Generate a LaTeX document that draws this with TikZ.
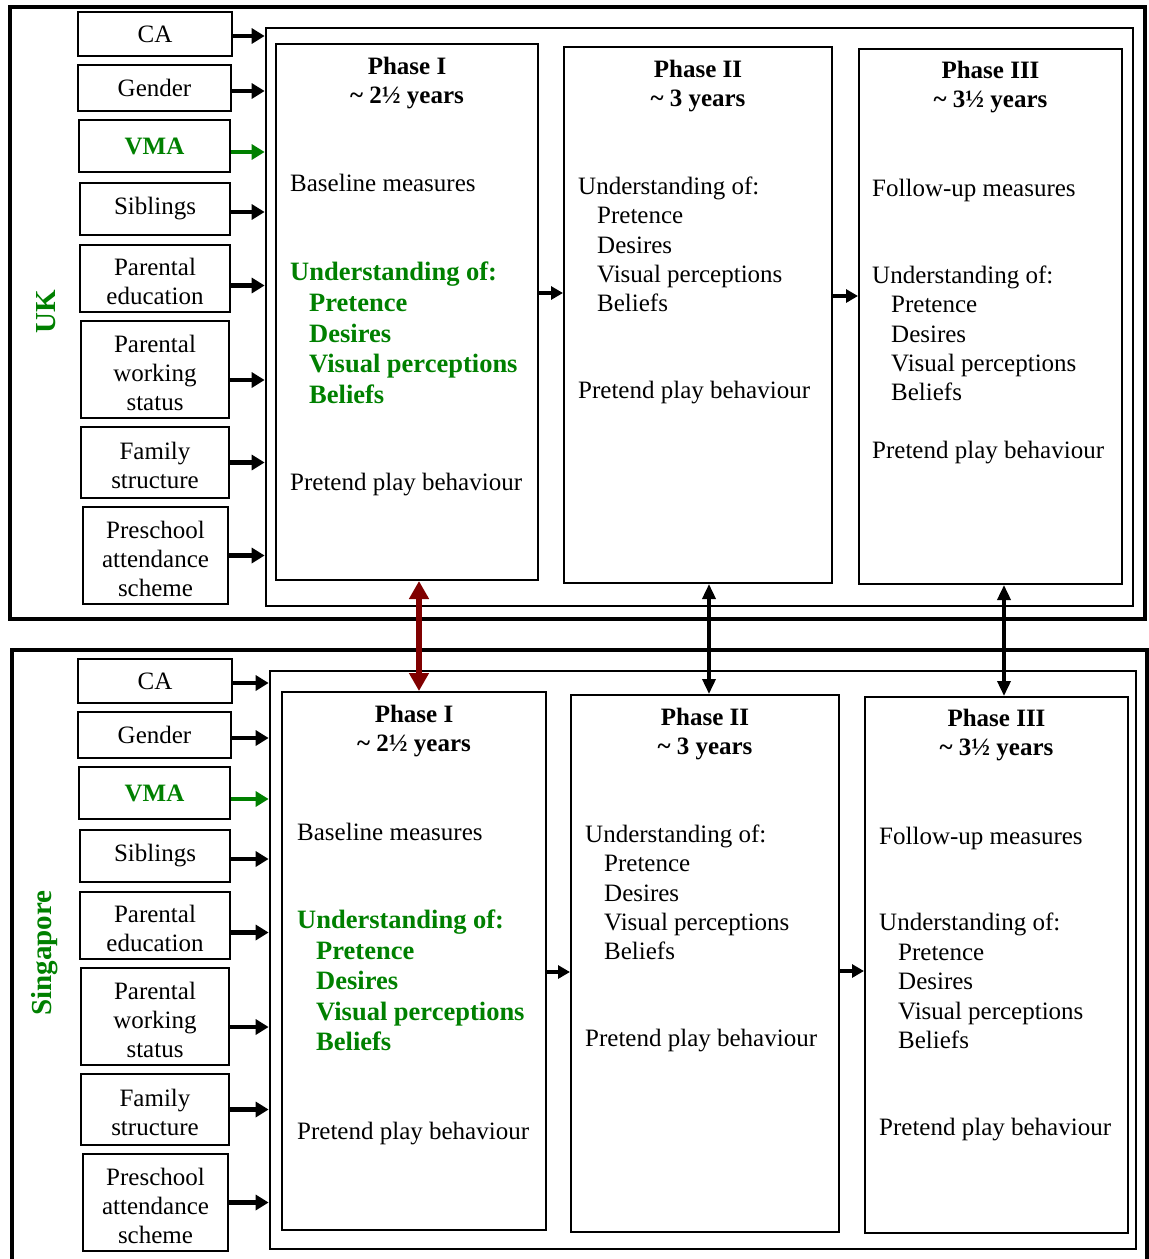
\documentclass[tikz,border=0pt]{standalone}
\usepackage{fontspec}
\setmainfont{Liberation Serif}
\usetikzlibrary{arrows.meta}
\definecolor{leaf}{RGB}{0,128,0}
\definecolor{linkred}{RGB}{128,0,0}

% Background variables feeding the phase frame; #1 = name prefix, #2 = vertical offset
\newcommand\drivers[2]{%
  \node[lbox,minimum width=154pt,minimum height=44pt] (#1ca) at (155,34+#2) {CA};
  \node[lbox,minimum width=153pt,minimum height=46pt] (#1gen) at (154.5,88+#2) {Gender};
  \node[lbox,minimum width=151pt,minimum height=52pt,font=\bfseries\fontsize{25}{29}\selectfont,text=leaf,yshift=1pt] (#1vma) at (154.5,147+#2) {VMA};
  \node[lbox,minimum width=150pt,minimum height=52pt] (#1sib) at (155,209+#2) {Siblings};
  \node[lbox,stack=52pt,minimum width=150pt,minimum height=67pt] (#1edu) at (155,278.5+#2) {Parental\\education};
  \node[lbox,stack=81pt,minimum width=148pt,minimum height=97pt] (#1work) at (155,369.5+#2) {Parental\\working\\status};
  \node[lbox,stack=52pt,minimum width=148pt,minimum height=71pt] (#1fam) at (155,462.5+#2) {Family\\structure};
  \node[lbox,stack=81pt,minimum width=145pt,minimum height=97pt] (#1pre) at (155.5,555.5+#2) {Preschool\\attendance\\scheme};
}
% Arrow from a variable box into the frame; #1 = box, #2 = frame, #3 = vertical shift, #4 = style
\newcommand\feedin[4]{%
  \path ([yshift=#3]#1.east) coordinate (#1A);
  \draw[#4] (#1A) -- (#1A -| #2.west);
}
\newcommand\allfeeds[2]{%
  \feedin{#1ca}{#2}{-2pt}{feed}
  \feedin{#1gen}{#2}{-3pt}{feed}
  \feedin{#1vma}{#2}{-6pt}{feedgreen}
  \feedin{#1sib}{#2}{-3pt}{feed}
  \feedin{#1edu}{#2}{-7pt}{feed}
  \feedin{#1work}{#2}{-10.5pt}{feed}
  \feedin{#1fam}{#2}{0pt}{feed}
  \feedin{#1pre}{#2}{0pt}{feed}
}

\begin{document}
\begin{tikzpicture}[x=1pt,y=-1pt,
  outerframe/.style={draw,line width=4pt,inner sep=0pt},
  innerframe/.style={draw,line width=2.7pt,inner sep=0pt},
  pbox/.style={draw,line width=2pt,inner sep=0pt},
  lbox/.style={draw,line width=2pt,inner sep=0pt,align=center,font=\fontsize{25}{29}\selectfont},
  stack/.style={text height=#1,text depth=0pt},
  ttl/.style={font=\bfseries\fontsize{25}{29}\selectfont,inner sep=0pt,anchor=base},
  body/.style={font=\fontsize{25}{29}\selectfont,inner sep=0pt,anchor=base west},
  gbody/.style={font=\bfseries\fontsize{26.5}{31}\selectfont,text=leaf,inner sep=0pt,anchor=base west},
  country/.style={font=\bfseries\fontsize{29}{34}\selectfont,text=leaf,rotate=90,inner sep=0pt},
  feed/.style={line width=4.5pt,-{Triangle[length=13pt,width=15pt]}},
  feedgreen/.style={feed,draw=leaf},
  link/.style={line width=4pt,-{Triangle[length=12pt,width=13pt]}},
  pair/.style={line width=3.5pt,{Triangle[length=15pt,width=13pt]}-{Triangle[length=15pt,width=13pt]}},
  pairred/.style={draw=linkred,line width=5.5pt,{Triangle[length=18pt,width=19pt]}-{Triangle[length=18pt,width=19pt]}}]

\useasboundingbox (0,0) rectangle (1149,1259);
\clip (0,0) rectangle (1149,1259);

% ---------------- UK ----------------
\node[outerframe,minimum width=1135pt,minimum height=612pt] (ukout) at (577.5,313) {};
\node[innerframe,minimum width=867pt,minimum height=578pt] (ukin) at (699.5,317) {};
\node[country] (uklabel) at (46,312) {UK};

\drivers{uk}{0}
\allfeeds{uk}{ukin}

\node[pbox,minimum width=262pt,minimum height=536pt] (ukp1) at (407,312) {};
\node[pbox,minimum width=268pt,minimum height=536pt] (ukp2) at (698,315) {};
\node[pbox,minimum width=263pt,minimum height=535pt] (ukp3) at (990.5,316.5) {};

\node[ttl] (ukp1a) at ([yshift=-31pt]ukp1.north) {Phase I};
\node[ttl] (ukp1b) at ([yshift=-60pt]ukp1.north) {\textasciitilde{} 2½ years};
\node[ttl] (ukp2a) at ([yshift=-31pt]ukp2.north) {Phase II};
\node[ttl] (ukp2b) at ([yshift=-60pt]ukp2.north) {\textasciitilde{} 3 years};
\node[ttl] (ukp3a) at ([yshift=-30pt]ukp3.north) {Phase III};
\node[ttl] (ukp3b) at ([yshift=-59pt]ukp3.north) {\textasciitilde{} 3½ years};

% Phase I
\node[body] (ukbase) at (290,191.5) {Baseline measures};
\node[gbody] (ukund1) at (290,280.5) {Understanding of:};
\foreach \t [count=\i] in {Pretence,Desires,Visual perceptions,Beliefs}
  \node[gbody] (ukund1\i) at (309,280.5+30.75*\i) {\t};
\node[body] (ukplay1) at (290,490.5) {Pretend play behaviour};
% Phase II
\node[body] (ukund2) at (578,194.5) {Understanding of:};
\foreach \t [count=\i] in {Pretence,Desires,Visual perceptions,Beliefs}
  \node[body] (ukund2\i) at (597,194.5+29.25*\i) {\t};
\node[body] (ukplay2) at (578,398.5) {Pretend play behaviour};
% Phase III
\node[body] (ukfollow) at (872,196.5) {Follow-up measures};
\node[body] (ukund3) at (872,283.5) {Understanding of:};
\foreach \t [count=\i] in {Pretence,Desires,Visual perceptions,Beliefs}
  \node[body] (ukund3\i) at (891,283.5+29.25*\i) {\t};
\node[body] (ukplay3) at (872,458.5) {Pretend play behaviour};

\draw[link] ([yshift=19pt]ukp1.east) -- ([yshift=19pt]ukp1.east -| ukp2.west);
\draw[link] ([yshift=19pt]ukp2.east) -- ([yshift=19pt]ukp2.east -| ukp3.west);

% ---------------- Singapore ----------------
\draw[line width=4pt] (12,1265) |- (1147,650) -- (1147,1265);
\node[innerframe,minimum width=866pt,minimum height=578pt] (sgin) at (703,960) {};
\node[country] (sglabel) at (45,953) {Singapore};

\drivers{sg}{647}
\allfeeds{sg}{sgin}

\node[pbox,minimum width=264pt,minimum height=538pt] (sgp1) at (414,961) {};
\node[pbox,minimum width=268pt,minimum height=537pt] (sgp2) at (705,963.5) {};
\node[pbox,minimum width=263pt,minimum height=536pt] (sgp3) at (996.5,965) {};

\node[ttl] (sgp1a) at ([yshift=-31pt]sgp1.north) {Phase I};
\node[ttl] (sgp1b) at ([yshift=-60pt]sgp1.north) {\textasciitilde{} 2½ years};
\node[ttl] (sgp2a) at ([yshift=-31pt]sgp2.north) {Phase II};
\node[ttl] (sgp2b) at ([yshift=-60pt]sgp2.north) {\textasciitilde{} 3 years};
\node[ttl] (sgp3a) at ([yshift=-30pt]sgp3.north) {Phase III};
\node[ttl] (sgp3b) at ([yshift=-59pt]sgp3.north) {\textasciitilde{} 3½ years};

% Phase I
\node[body] (sgbase) at (297,840.5) {Baseline measures};
\node[gbody] (sgund1) at (297,928.5) {Understanding of:};
\foreach \t [count=\i] in {Pretence,Desires,Visual perceptions,Beliefs}
  \node[gbody] (sgund1\i) at (316,928.5+30.5*\i) {\t};
\node[body] (sgplay1) at (297,1139.5) {Pretend play behaviour};
% Phase II
\node[body] (sgund2) at (585,842.5) {Understanding of:};
\foreach \t [count=\i] in {Pretence,Desires,Visual perceptions,Beliefs}
  \node[body] (sgund2\i) at (604,842.5+29.25*\i) {\t};
\node[body] (sgplay2) at (585,1046.5) {Pretend play behaviour};
% Phase III
\node[body] (sgfollow) at (879,844.5) {Follow-up measures};
\node[body] (sgund3) at (879,930.5) {Understanding of:};
\foreach \t [count=\i] in {Pretence,Desires,Visual perceptions,Beliefs}
  \node[body] (sgund3\i) at (898,930.5+29.5*\i) {\t};
\node[body] (sgplay3) at (879,1135.5) {Pretend play behaviour};

\draw[link] ([yshift=-11pt]sgp1.east) -- ([yshift=-11pt]sgp1.east -| sgp2.west);
\draw[link] ([yshift=-7.5pt]sgp2.east) -- ([yshift=-7.5pt]sgp2.east -| sgp3.west);

% ---------------- cross-country links ----------------
\path ([xshift=12pt]ukp1.south) coordinate (x1);
\path ([xshift=11pt]ukp2.south) coordinate (x2);
\path ([xshift=13.5pt]ukp3.south) coordinate (x3);
\draw[pairred] (x1) -- (x1 |- sgp1.north);
\draw[pair] (x2) -- (x2 |- sgp2.north);
\draw[pair] (x3) -- (x3 |- sgp3.north);

\end{tikzpicture}
\end{document}
